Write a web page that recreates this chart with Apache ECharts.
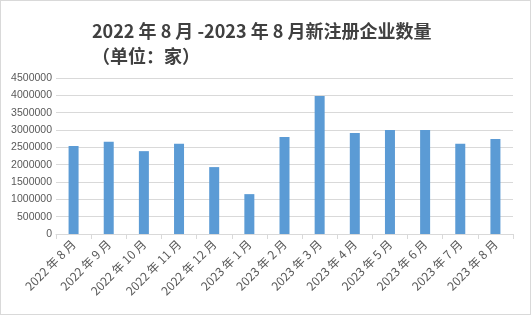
<!DOCTYPE html>
<html><head><meta charset="utf-8">
<script src="https://cdn.jsdelivr.net/npm/echarts@6/dist/echarts.min.js"></script>
<style>html,body{margin:0;padding:0;background:#fff}#c{width:531px;height:315px;box-sizing:border-box;border:1px solid #d9d9d9}</style>
</head><body><div id="c"></div>
<script>
const categories = ['2022 年 8 月','2022 年 9 月','2022 年 10 月','2022 年 11 月','2022 年 12 月','2023 年 1 月','2023 年 2 月','2023 年 3 月','2023 年 4 月','2023 年 5 月','2023 年 6 月','2023 年 7 月','2023 年 8 月'];
const values = [2540000, 2660000, 2390000, 2600000, 1930000, 1150000, 2800000, 3980000, 2910000, 3000000, 3000000, 2600000, 2740000];
const titleLines = ['2022 年 8 月 -2023 年 8 月新注册企业数量', '（单位：家）'];
const chart = echarts.init(document.getElementById('c'), null, {renderer: 'canvas'});
chart.setOption({
  animation: false,
  title: {
    text: titleLines.join('\n'),
    left: 86, top: 13,
    textStyle: {fontFamily: 'Noto Sans CJK SC', fontSize: 18, fontWeight: 'bold', color: '#404040', lineHeight: 25}
  },
  grid: {left: 55, right: 17, top: 77, bottom: 80, containLabel: false},
  xAxis: {
    type: 'category', data: categories,
    axisLine: {lineStyle: {color: '#d9d9d9'}},
    axisTick: {show: true, alignWithLabel: false, length: 5, lineStyle: {color: '#d9d9d9'}},
    axisLabel: {rotate: 45, interval: 0, color: '#595959', fontSize: 12, fontFamily: 'Noto Sans CJK SC', margin: 8}
  },
  yAxis: {
    type: 'value', min: 0, max: 4500000, interval: 500000,
    axisLine: {show: false}, axisTick: {show: false},
    splitLine: {lineStyle: {color: '#d9d9d9', width: 1}},
    axisLabel: {color: '#595959', fontSize: 10.5, fontFamily: 'Liberation Sans', margin: 4, formatter: v => String(v)}
  },
  series: [{type: 'bar', data: values, barWidth: 10, itemStyle: {color: '#5b9bd5'}}]
});
</script></body></html>
